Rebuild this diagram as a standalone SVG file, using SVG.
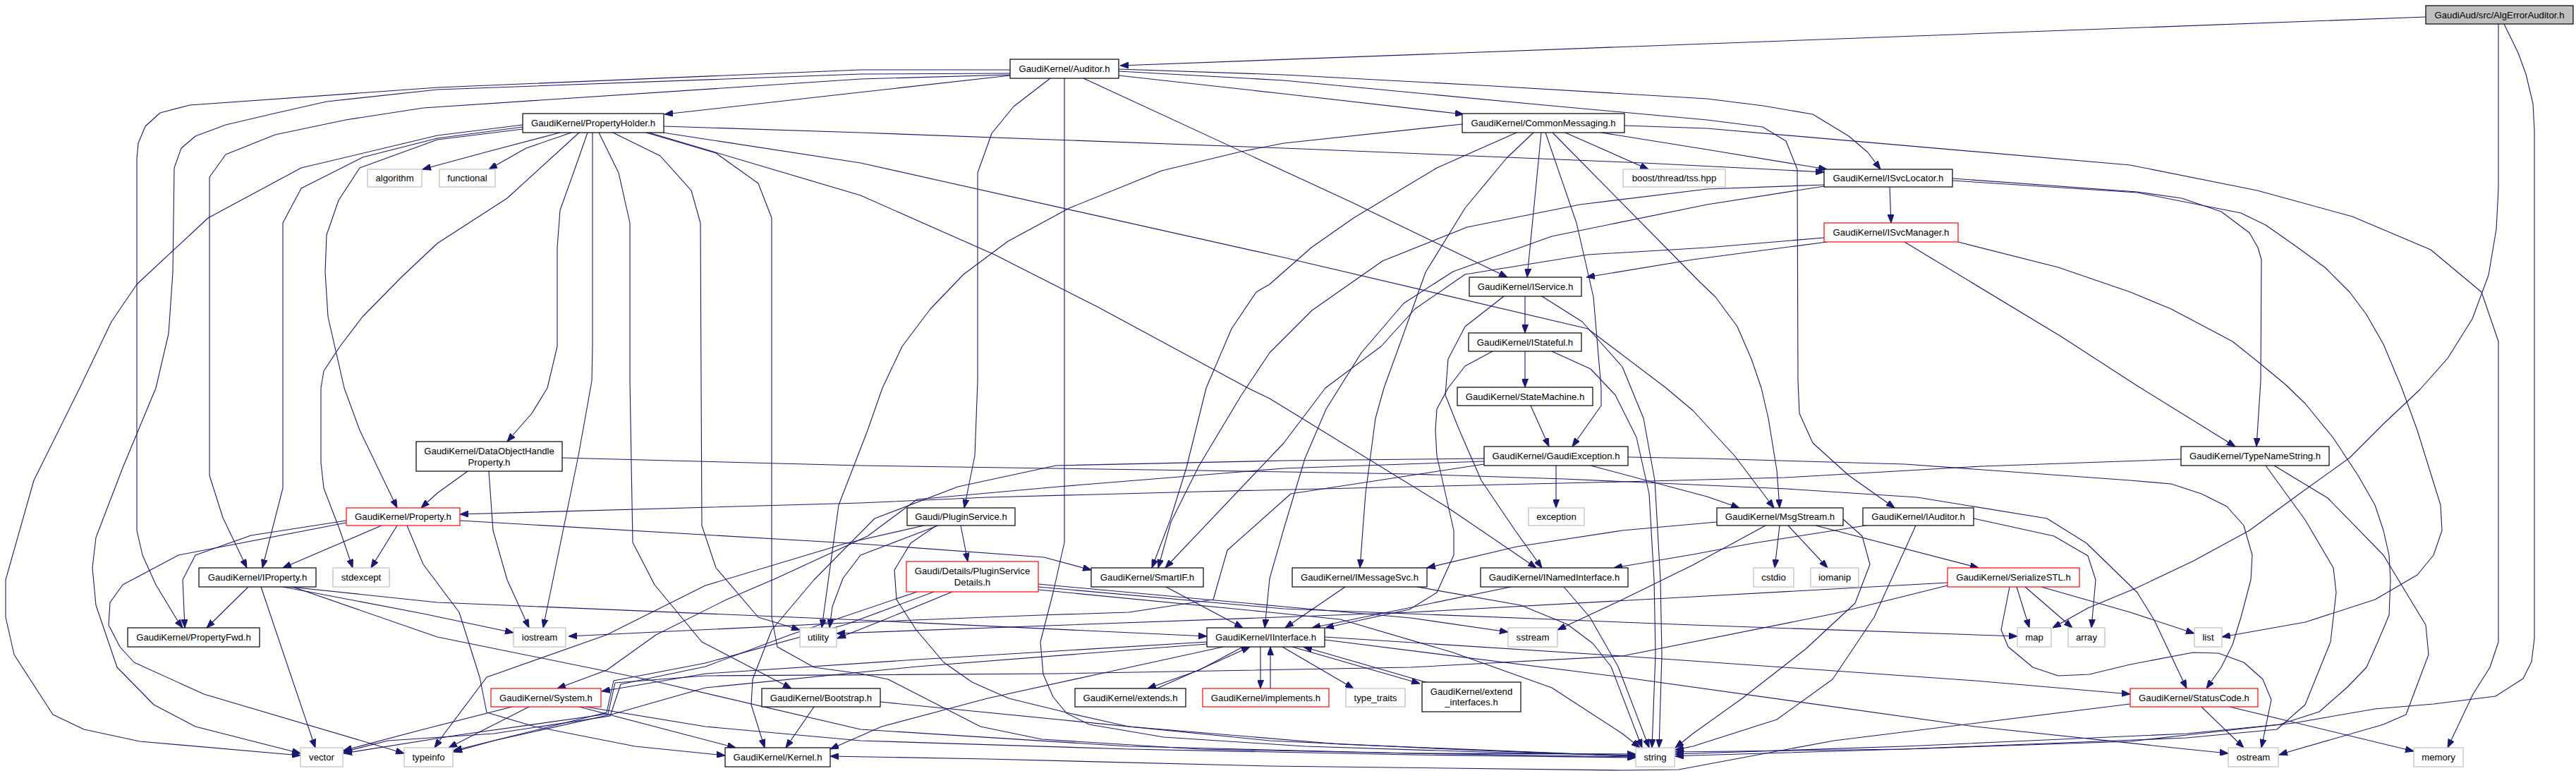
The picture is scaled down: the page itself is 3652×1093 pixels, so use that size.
<svg xmlns="http://www.w3.org/2000/svg" width="3652" height="1093" viewBox="0 0 3652 1093">
<defs>
<marker id="a" markerWidth="12" markerHeight="9" refX="12" refY="4.5" orient="auto" markerUnits="userSpaceOnUse"><path d="M0,0 L12,4.5 L0,9 z" fill="#191970" stroke="#191970" stroke-width="1"/></marker>
</defs>
<style>
.n rect{fill:#ffffff;stroke:#000000;stroke-width:1.2}
.n.r rect{stroke:#ff0000}
.n.g rect{stroke:#bfbfbf}
.n.m rect{fill:#bfbfbf}
text{font-family:"Liberation Sans",Arial,Helvetica,sans-serif;font-size:13.2px;fill:#000000;text-anchor:middle}
#edges path{fill:none;stroke:#191970;stroke-width:1.1;stroke-linejoin:round;marker-end:url(#a)}
</style>
<rect x="0" y="0" width="3652" height="1093" fill="#ffffff"/>
<g id="edges">
<path d="M3439,24 L1588,93"/>
<path d="M3542,34 L3542,267 L3539,325 L3528,390 L3505,452 L3470,508 L3431,552 L3380,600 L3331,649 L3260,700 L3189,752 L3110,795 L3030,833 L2960,862 L2910,890"/>
<path d="M3550,34 L3570,75 L3581,105 L3591,147 L3593,185 L3593,905 L3589,938 L3577,962 L3538,987 L3450,998 L3367,1005 L3252,1025 L3100,1042 L3020,1051 L2700,1062 L2400,1071 L2375,1072"/>
<path d="M1586,107 L1820,133 L2075,162"/>
<path d="M1586,98 L1820,106 L2100,121 L2420,140 L2500,150 L2570,162 L2621,193 L2648,216 L2666,240"/>
<path d="M1586,101 L1820,114 L2200,150 L2420,170 L2499,180 L2532,200 L2548,240 L2549,540 L2551,586 L2570,628 L2621,674 L2686,720"/>
<path d="M1432,107 L1200,133 L942,162"/>
<path d="M1432,99 L1220,99 L620,124 L269,149 L227,160 L206,179 L196,203 L194,225 L194,752 L202,787 L221,829 L253,882 L259,890"/>
<path d="M1432,104 L1220,105 L620,127 L463,144 L388,161 L320,177 L277,193 L257,210 L247,238 L245,386 L239,473 L221,550 L174,663 L136,762 L131,805 L136,858 L166,946 L218,999 L277,1030 L426,1068"/>
<path d="M1432,106 L1220,112 L600,153 L490,170 L390,191 L320,219 L297,251 L297,674 L316,734 L350,805"/>
<path d="M1489,111 L1437,151 L1406,189 L1386,245 L1386,540 L1382,646 L1367,720"/>
<path d="M1509,111 L1509,769 L1493,840 L1475,910 L1479,956 L1493,988 L1512,1011 L1544,1027 L1650,1045 L1850,1058 L2100,1066 L2319,1071"/>
<path d="M1536,111 L1919,288 L2137,393"/>
<path d="M794,188 L695,214 L599,240"/>
<path d="M810,188 L746,210 L693,240"/>
<path d="M741,177 L620,192 L427,238 L295,309 L194,403 L158,456 L113,550 L48,681 L8,822 L8,875 L20,928 L75,1013 L119,1034 L198,1051 L426,1071"/>
<path d="M741,180 L620,196 L514,223 L427,267 L401,316 L401,692 L372,805"/>
<path d="M741,183 L620,198 L510,238 L480,284 L463,333 L461,386 L465,449 L488,550 L510,610 L563,720"/>
<path d="M821,188 L719,281 L620,345 L569,393 L514,449 L482,491 L459,526 L455,550 L455,656 L459,692 L482,752 L500,805"/>
<path d="M833,188 L813,245 L794,298 L790,351 L790,491 L776,550 L754,586 L719,626"/>
<path d="M840,188 L840,491 L839,540 L820,646 L770,890"/>
<path d="M849,188 L877,245 L893,316 L893,540 L897,769 L928,829 L995,910 L1122,976"/>
<path d="M869,188 L936,221 L980,270 L993,316 L994,540 L995,745 L1015,805 L1075,875 L1134,893"/>
<path d="M916,188 L1015,217 L1075,260 L1094,309 L1094,875 L1102,917 L1154,946 L1220,955 L1259,963 L1390,1030 L1477,1048 L1700,1062 L2000,1068 L2319,1069"/>
<path d="M920,188 L1220,277 L1410,361 L1556,435 L1769,550 L1800,565 L2053,720 L2178,805"/>
<path d="M940,188 L1220,231 L1820,365 L2251,466 L2362,550 L2400,582 L2459,646 L2515,720"/>
<path d="M941,179 L1220,188 L1820,210 L2330,231 L2586,244"/>
<path d="M2219,188 L2337,240"/>
<path d="M2185,188 L2165,393"/>
<path d="M2270,188 L2420,212 L2590,240"/>
<path d="M2303,178 L2420,182 L3020,234 L3200,270 L3335,307 L3446,354 L3518,414 L3542,484 L3542,910 L3530,946 L3506,984 L3470,1060"/>
<path d="M2073,176 L1820,203 L1759,215 L1647,242 L1516,295 L1429,342 L1366,389 L1319,438 L1279,491 L1251,550 L1230,610 L1189,716 L1165,890"/>
<path d="M2150,188 L2037,238 L1919,309 L1859,351 L1800,403 L1781,414 L1746,466 L1710,550 L1682,663 L1659,737 L1633,805"/>
<path d="M2174,188 L2136,224 L2077,295 L2021,386 L1986,484 L1962,550 L1950,593 L1936,699 L1928,805"/>
<path d="M2191,188 L2235,316 L2259,421 L2270,550 L2270,575 L2229,633"/>
<path d="M2201,188 L2410,400 L2432,421 L2463,463 L2483,509 L2497,550 L2507,593 L2519,667 L2523,720"/>
<path d="M2679,265 L2681,316"/>
<path d="M2768,253 L3030,272 L3093,281 L3149,300 L3189,330 L3201,351 L3206,368 L3205,540 L3199,633"/>
<path d="M2768,256 L3030,273 L3177,302 L3212,319 L3252,347 L3296,379 L3331,414 L3355,446 L3379,488 L3405,550 L3427,610 L3460,716 L3462,752 L3450,787 L3427,815 L3367,850 L3268,882 L3150,903"/>
<path d="M2586,262 L2420,268 L2240,290 L2080,322 L1960,370 L1860,440 L1800,500 L1760,560 L1700,660 L1660,740 L1642,805"/>
<path d="M2586,264 L2420,290 L2200,335 L2060,385 L1990,430 L1930,500 L1880,580 L1850,650 L1820,750 L1800,820 L1793,890"/>
<path d="M2590,343 L2400,368 L2249,393"/>
<path d="M2700,343 L2922,477 L3030,547 L3169,633"/>
<path d="M2776,343 L2918,379 L3020,414 L3078,438 L3165,484 L3205,516 L3240,545 L3268,572 L3308,621 L3343,674 L3367,716 L3379,752 L3387,787 L3389,822 L3387,872 L3371,910 L3355,946 L3328,974 L3288,1009 L3232,1027 L3100,1040 L2700,1058 L2375,1069"/>
<path d="M2586,337 L2420,351 L2251,361 L2077,389 L2006,438 L1958,491 L1879,550 L1820,628 L1652,805"/>
<path d="M2162,420 L2162,472"/>
<path d="M2132,420 L2077,463 L2053,509 L2049,560 L2069,610 L2100,681 L2148,752 L2186,805"/>
<path d="M2186,420 L2243,456 L2300,520 L2330,593 L2346,681 L2354,822 L2356,928 L2352,1060"/>
<path d="M2162,498 L2162,549"/>
<path d="M2116,498 L2077,519 L2053,550 L2037,580 L2035,610 L2037,646 L2061,752 L2061,787 L2037,840 L1998,864 L1879,890"/>
<path d="M2200,498 L2255,523 L2290,560 L2320,620 L2338,700 L2345,822 L2347,928 L2342,1060"/>
<path d="M2170,575 L2196,633"/>
<path d="M2206,660 L2206,720"/>
<path d="M2255,660 L2420,704 L2466,720"/>
<path d="M2308,648 L2420,650 L2700,658 L3020,681 L3078,686 L3121,700 L3157,718 L3181,745 L3193,787 L3191,822 L3177,875 L3165,914 L3149,946 L3128,976"/>
<path d="M2104,650 L1820,653 L1497,660 L1358,690 L1240,735 L1154,822 L1094,893 L1067,963 L1065,999 L1084,1060"/>
<path d="M2104,658 L1830,700 L1740,780 L1720,850 L1600,868 L1476,872 L1220,882 L806,902"/>
<path d="M2104,654 L1820,664 L1500,690 L1300,708 L1230,760 L1100,820 L1030,850 L930,900 L860,950 L790,976"/>
<path d="M3092,651 L2810,661 L2530,677 L2300,683 L2000,690 L1700,697 L1400,705 L1220,713 L652,729"/>
<path d="M3212,660 L3268,737 L3308,805 L3312,840 L3304,910 L3268,999 L3228,1034 L3100,1046 L2700,1062 L2375,1066"/>
<path d="M3224,660 L3300,706 L3379,787 L3439,886 L3443,928 L3411,1013 L3379,1027 L3244,1066 L3231,1070"/>
<path d="M663,668 L620,699 L597,720"/>
<path d="M693,668 L699,752 L719,822 L750,890"/>
<path d="M797,649 L1220,660 L1700,667 L2000,672 L2218,679 L2533,693 L2718,705 L2902,735 L2958,770 L3030,840 L3054,879 L3100,976"/>
<path d="M1362,745 L1372,796"/>
<path d="M1330,745 L1220,787 L1195,820 L1180,860 L1176,890"/>
<path d="M1326,746 L1291,770 L1268,808 L1271,850 L1299,893 L1338,939 L1378,967 L1430,990 L1520,1012 L1600,1030 L1900,1055 L2319,1072"/>
<path d="M1310,745 L1200,770 L1000,830 L860,900 L690,960 L630,1040 L616,1060"/>
<path d="M1472,828 L1820,860 L2000,876 L2138,896"/>
<path d="M1472,832 L1820,863 L2200,878 L2400,886 L2860,902"/>
<path d="M1472,836 L1800,868 L1900,878 L2060,925 L2200,975 L2300,1040 L2325,1060"/>
<path d="M1350,839 L1250,880 L1187,905"/>
<path d="M1324,839 L1200,885 L1000,940 L870,965 L860,1010 L700,1050 L643,1064"/>
<path d="M1300,839 L1120,900 L1000,945 L880,970 L865,1015 L700,1040 L550,1050 L487,1066"/>
<path d="M352,832 L293,890"/>
<path d="M370,832 L447,1060"/>
<path d="M401,832 L600,870 L728,897"/>
<path d="M411,832 L620,854 L1220,879 L1711,902"/>
<path d="M415,832 L620,903 L916,963 L1220,1034 L1600,1058 L2000,1068 L2319,1073"/>
<path d="M541,745 L401,805"/>
<path d="M491,738 L356,759 L277,787 L259,822 L262,890"/>
<path d="M563,745 L526,805"/>
<path d="M491,741 L253,787 L174,829 L156,854 L154,886 L170,917 L190,939 L289,984 L573,1068"/>
<path d="M577,745 L600,800 L651,868 L680,960 L690,1010 L758,1030 L900,1058 L1028,1071"/>
<path d="M652,738 L1220,771 L1480,790 L1547,808"/>
<path d="M726,1002 L600,1034 L487,1064"/>
<path d="M750,1002 L636,1060"/>
<path d="M821,1002 L1043,1060"/>
<path d="M830,1002 L1000,1030 L1220,1050 L1600,1062 L2000,1070 L2319,1074"/>
<path d="M1154,1002 L1114,1060"/>
<path d="M1248,995 L1500,1020 L1800,1050 L2100,1064 L2319,1072"/>
<path d="M1762,917 L1700,950 L1627,976"/>
<path d="M1640,976 L1710,945 L1772,917"/>
<path d="M1787,917 L1787,976"/>
<path d="M1801,976 L1801,917"/>
<path d="M1832,917 L2013,969"/>
<path d="M2021,967 L1848,917"/>
<path d="M1818,917 L1919,976"/>
<path d="M1878,903 L2300,930 L2800,965 L3020,984"/>
<path d="M1878,907 L2300,960 L2800,1030 L3100,1062 L3159,1068"/>
<path d="M1711,910 L1300,935 L1000,955 L853,980"/>
<path d="M1711,913 L1300,945 L1000,975 L870,1012 L700,1050 L643,1066"/>
<path d="M1734,917 L1560,955 L1400,990 L1250,1030 L1177,1062"/>
<path d="M3121,1002 L3181,1060"/>
<path d="M3161,1002 L3422,1065"/>
<path d="M3020,998 L2600,1050 L2380,1091 L2300,1092 L1800,1086 L1400,1076 L1177,1072"/>
<path d="M2859,832 L2877,890"/>
<path d="M2871,832 L2938,890"/>
<path d="M2894,832 L3020,868 L3111,898"/>
<path d="M2849,832 L2837,893 L2847,917 L2882,946 L2918,958 L2962,956 L3020,942 L3109,925 L3145,926 L3181,939 L3208,963 L3220,992 L3206,1060"/>
<path d="M2761,826 L2400,846 L2000,868 L1186,898"/>
<path d="M2761,830 L2600,870 L2300,930 L2000,946 L1500,955 L1000,958 L872,968 L862,1012 L650,1042 L487,1068"/>
<path d="M2523,745 L2516,805"/>
<path d="M2535,745 L2591,805"/>
<path d="M2574,745 L2805,805"/>
<path d="M2434,740 L2300,752 L2150,775 L2023,805"/>
<path d="M2503,745 L2400,801 L2300,850 L2208,893"/>
<path d="M2613,736 L2640,760 L2651,800 L2630,855 L2560,920 L2470,990 L2400,1040 L2375,1060"/>
<path d="M2645,745 L2486,770 L2400,786 L2288,805"/>
<path d="M2716,745 L2657,875 L2598,963 L2519,1020 L2400,1058 L2375,1063"/>
<path d="M2798,735 L2912,760 L2960,788 L2971,822 L2965,890"/>
<path d="M1907,832 L1822,890"/>
<path d="M2009,832 L2156,858 L2222,885 L2258,912 L2284,945 L2328,1060"/>
<path d="M2142,832 L1860,890"/>
<path d="M2217,832 L2254,875 L2294,945 L2338,1060"/>
<path d="M1653,832 L1762,890"/>
</g>
<g id="n_algerrorauditor" class="n m"><rect x="3439" y="8" width="209" height="26"/><text x="3543.5" y="25.6">GaudiAud/src/AlgErrorAuditor.h</text></g>
<g id="n_auditor" class="n"><rect x="1432" y="84" width="154" height="27"/><text x="1509" y="102.1">GaudiKernel/Auditor.h</text></g>
<g id="n_propertyholder" class="n"><rect x="741" y="161" width="200" height="27"/><text x="841" y="179.1">GaudiKernel/PropertyHolder.h</text></g>
<g id="n_commonmessaging" class="n"><rect x="2073" y="161" width="230" height="27"/><text x="2188" y="179.1">GaudiKernel/CommonMessaging.h</text></g>
<g id="n_algorithm" class="n g"><rect x="521" y="240" width="77" height="25"/><text x="559.5" y="257.1">algorithm</text></g>
<g id="n_functional" class="n g"><rect x="623" y="240" width="79" height="25"/><text x="662.5" y="257.1">functional</text></g>
<g id="n_boost" class="n g"><rect x="2301" y="240" width="145" height="25"/><text x="2373.5" y="257.1">boost/thread/tss.hpp</text></g>
<g id="n_isvclocator" class="n"><rect x="2586" y="240" width="182" height="25"/><text x="2677" y="257.1">GaudiKernel/ISvcLocator.h</text></g>
<g id="n_isvcmanager" class="n r"><rect x="2586" y="316" width="190" height="27"/><text x="2681" y="334.1">GaudiKernel/ISvcManager.h</text></g>
<g id="n_iservice" class="n"><rect x="2083" y="393" width="159" height="27"/><text x="2162.5" y="411.1">GaudiKernel/IService.h</text></g>
<g id="n_istateful" class="n"><rect x="2082" y="472" width="160" height="26"/><text x="2162" y="489.6">GaudiKernel/IStateful.h</text></g>
<g id="n_statemachine" class="n"><rect x="2066" y="549" width="192" height="26"/><text x="2162" y="566.6">GaudiKernel/StateMachine.h</text></g>
<g id="n_dataobjecthandleproperty" class="n"><rect x="590" y="626" width="207" height="42"/><text x="693.5" y="644">GaudiKernel/DataObjectHandle</text><text x="693.5" y="659.5">Property.h</text></g>
<g id="n_gaudiexception" class="n"><rect x="2104" y="633" width="204" height="27"/><text x="2206" y="651.1">GaudiKernel/GaudiException.h</text></g>
<g id="n_typenamestring" class="n"><rect x="3092" y="633" width="210" height="27"/><text x="3197" y="651.1">GaudiKernel/TypeNameString.h</text></g>
<g id="n_property" class="n r"><rect x="491" y="720" width="161" height="25"/><text x="571.5" y="737.1">GaudiKernel/Property.h</text></g>
<g id="n_pluginservice" class="n"><rect x="1286" y="720" width="153" height="25"/><text x="1362.5" y="737.1">Gaudi/PluginService.h</text></g>
<g id="n_exception" class="n g"><rect x="2167" y="720" width="79" height="25"/><text x="2206.5" y="737.1">exception</text></g>
<g id="n_msgstream" class="n"><rect x="2434" y="720" width="179" height="25"/><text x="2523.5" y="737.1">GaudiKernel/MsgStream.h</text></g>
<g id="n_iauditor" class="n"><rect x="2641" y="720" width="157" height="25"/><text x="2719.5" y="737.1">GaudiKernel/IAuditor.h</text></g>
<g id="n_iproperty" class="n"><rect x="282" y="805" width="166" height="27"/><text x="365" y="823.1">GaudiKernel/IProperty.h</text></g>
<g id="n_stdexcept" class="n g"><rect x="472" y="805" width="80" height="27"/><text x="512" y="823.1">stdexcept</text></g>
<g id="n_pluginservicedetails" class="n r"><rect x="1285" y="796" width="187" height="43"/><text x="1378.5" y="814">Gaudi/Details/PluginService</text><text x="1378.5" y="829.5">Details.h</text></g>
<g id="n_smartif" class="n"><rect x="1547" y="805" width="159" height="27"/><text x="1626.5" y="823.1">GaudiKernel/SmartIF.h</text></g>
<g id="n_imessagesvc" class="n"><rect x="1832" y="805" width="191" height="27"/><text x="1927.5" y="823.1">GaudiKernel/IMessageSvc.h</text></g>
<g id="n_inamedinterface" class="n"><rect x="2099" y="805" width="209" height="27"/><text x="2203.5" y="823.1">GaudiKernel/INamedInterface.h</text></g>
<g id="n_cstdio" class="n g"><rect x="2486" y="805" width="57" height="27"/><text x="2514.5" y="823.1">cstdio</text></g>
<g id="n_iomanip" class="n g"><rect x="2567" y="805" width="68" height="27"/><text x="2601" y="823.1">iomanip</text></g>
<g id="n_serializestl" class="n r"><rect x="2761" y="805" width="187" height="27"/><text x="2854.5" y="823.1">GaudiKernel/SerializeSTL.h</text></g>
<g id="n_propertyfwd" class="n"><rect x="181" y="890" width="187" height="27"/><text x="274.5" y="908.1">GaudiKernel/PropertyFwd.h</text></g>
<g id="n_iostream" class="n g"><rect x="728" y="890" width="74" height="27"/><text x="765" y="908.1">iostream</text></g>
<g id="n_utility" class="n g"><rect x="1134" y="890" width="52" height="27"/><text x="1160" y="908.1">utility</text></g>
<g id="n_iinterface" class="n"><rect x="1711" y="890" width="167" height="27"/><text x="1794.5" y="908.1">GaudiKernel/IInterface.h</text></g>
<g id="n_sstream" class="n g"><rect x="2138" y="890" width="70" height="27"/><text x="2173" y="908.1">sstream</text></g>
<g id="n_map" class="n g"><rect x="2860" y="890" width="48" height="27"/><text x="2884" y="908.1">map</text></g>
<g id="n_array" class="n g"><rect x="2932" y="890" width="52" height="27"/><text x="2958" y="908.1">array</text></g>
<g id="n_list" class="n g"><rect x="3111" y="890" width="39" height="27"/><text x="3130.5" y="908.1">list</text></g>
<g id="n_system" class="n r"><rect x="696" y="976" width="156" height="26"/><text x="774" y="993.6">GaudiKernel/System.h</text></g>
<g id="n_bootstrap" class="n"><rect x="1080" y="976" width="168" height="26"/><text x="1164" y="993.6">GaudiKernel/Bootstrap.h</text></g>
<g id="n_extends" class="n"><rect x="1524" y="976" width="157" height="26"/><text x="1602.5" y="993.6">GaudiKernel/extends.h</text></g>
<g id="n_implements" class="n r"><rect x="1705" y="976" width="179" height="26"/><text x="1794.5" y="993.6">GaudiKernel/implements.h</text></g>
<g id="n_type_traits" class="n g"><rect x="1908" y="976" width="84" height="26"/><text x="1950" y="993.6">type_traits</text></g>
<g id="n_extend_interfaces" class="n"><rect x="2016" y="967" width="140" height="42"/><text x="2086" y="984.5">GaudiKernel/extend</text><text x="2086" y="1000">_interfaces.h</text></g>
<g id="n_statuscode" class="n r"><rect x="3020" y="976" width="181" height="26"/><text x="3110.5" y="993.6">GaudiKernel/StatusCode.h</text></g>
<g id="n_vector" class="n g"><rect x="426" y="1060" width="60" height="27"/><text x="456" y="1078.1">vector</text></g>
<g id="n_typeinfo" class="n g"><rect x="573" y="1060" width="69" height="27"/><text x="607.5" y="1078.1">typeinfo</text></g>
<g id="n_kernel" class="n"><rect x="1028" y="1060" width="149" height="27"/><text x="1102.5" y="1078.1">GaudiKernel/Kernel.h</text></g>
<g id="n_string" class="n g"><rect x="2319" y="1060" width="55" height="27"/><text x="2346.5" y="1078.1">string</text></g>
<g id="n_ostream" class="n g"><rect x="3159" y="1060" width="71" height="27"/><text x="3194.5" y="1078.1">ostream</text></g>
<g id="n_memory" class="n g"><rect x="3422" y="1060" width="70" height="27"/><text x="3457" y="1078.1">memory</text></g>
</svg>
